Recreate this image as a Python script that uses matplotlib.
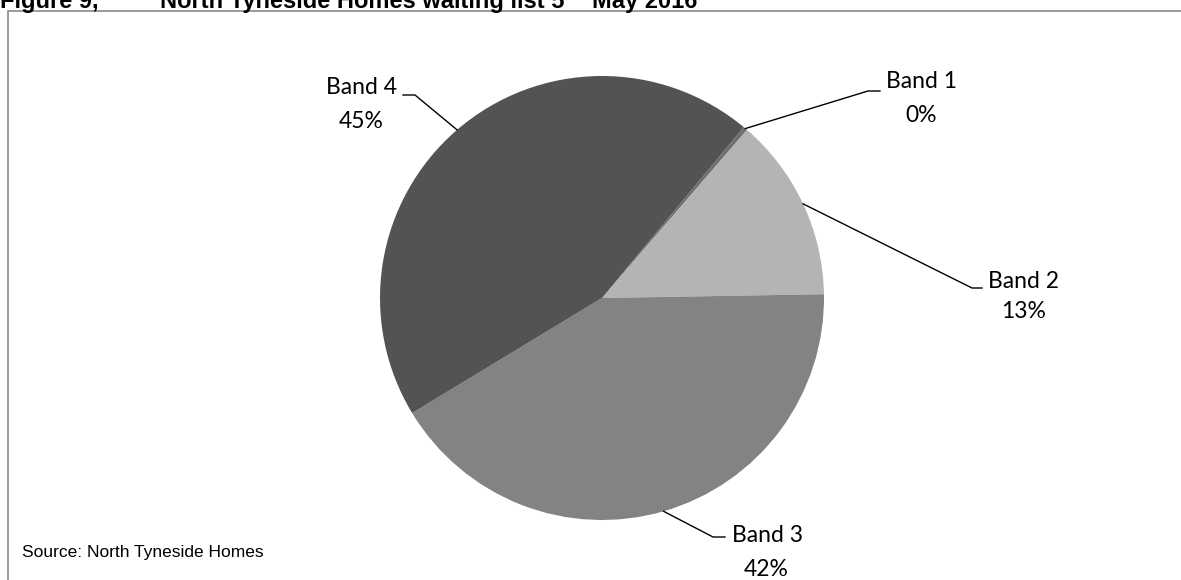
import numpy as np
import matplotlib.pyplot as plt
from matplotlib.patches import Rectangle

# Data
bands = ['Band 1', 'Band 2', 'Band 3', 'Band 4']
shares = [0.3, 13.4, 41.6, 44.7]
pct_labels = ['0%', '13%', '42%', '45%']
colors = ['#6f6f6f', '#b4b4b4', '#838383', '#535353']

W, H = 1181, 580

# label layout in pixel coords: elbow point, end of horizontal tick, text anchor
elbows = [(868, 91), (972, 288), (713, 537), (415, 95)]
tick_ends = [(880, 91), (982, 288), (725, 537), (403, 95)]
name_pos = [(922, 82), (1024, 281), (767, 535), (362, 88)]
pct_pos = [(921, 115), (1024, 312), (766, 569), (361, 121)]

fig = plt.figure(figsize=(W / 100, H / 100), dpi=100)
ax = fig.add_axes([0, 0, 1, 1])

cx, cy, r = 602, 298, 222
wedges, _ = ax.pie(shares, colors=colors, startangle=50.3, counterclock=False,
                   center=(cx, H - cy), radius=r, wedgeprops=dict(linewidth=0))
ax.set_xlim(0, W)
ax.set_ylim(0, H)
ax.set_aspect('equal')
ax.axis('off')

lab_font = dict(family=['Lato', 'DejaVu Sans'], fontsize=16.5, color='black')
for i, w in enumerate(wedges):
    ang = np.deg2rad((w.theta1 + w.theta2) / 2)
    sx = cx + r * np.cos(ang)
    sy = (H - cy) + r * np.sin(ang)
    ex, ey = elbows[i]
    tx, ty = tick_ends[i]
    ax.plot([sx, ex, tx], [sy, H - ey, H - ty], color='black', lw=1.0,
            solid_joinstyle='miter')
    ax.text(name_pos[i][0], H - name_pos[i][1], bands[i], ha='center', va='center', **lab_font)
    ax.text(pct_pos[i][0], H - pct_pos[i][1], pct_labels[i], ha='center', va='center', **lab_font)

# chart frame
fig.patches.append(Rectangle((8 / W, -0.05), 1.1, 1 - 11 / H + 0.05, transform=fig.transFigure,
                             fill=False, edgecolor='#8a8a8a', lw=1.2))

# source note
fig.text(22 / W, 1 - 557 / H, 'Source: North Tyneside Homes', ha='left', va='baseline',
         family='Liberation Sans', fontsize=12.5)

# title, mostly cut off at the top edge
tfont = dict(family='Liberation Sans', fontweight='bold', fontsize=17, va='baseline')
fig.text(0, 1 - 8 / H, 'Figure 9,', ha='left', **tfont)
fig.text(160 / W, 1 - 8 / H, 'North Tyneside Homes waiting list 5', ha='left', **tfont)
fig.text(563 / W, 1 + 3 / H, 'th', ha='left', family='Liberation Sans', fontweight='bold',
         fontsize=10, va='baseline')
fig.text(592 / W, 1 - 8 / H, 'May 2016', ha='left', **tfont)

fig.savefig('out.png', dpi=100)
